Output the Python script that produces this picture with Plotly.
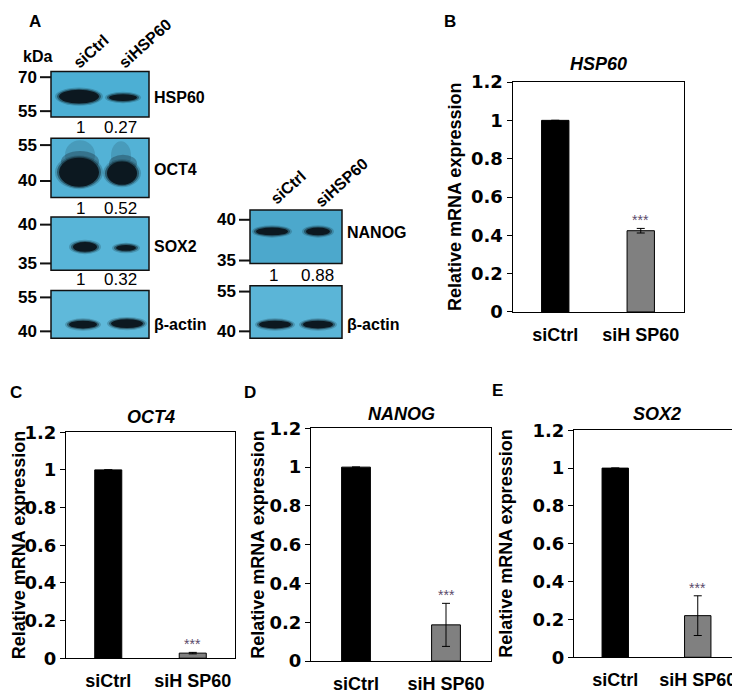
import plotly.graph_objects as go

W, H = 740, 700
OFF = 8  # page body margin: figure content is drawn 8 px in from the window corner
FONT = "Liberation Sans, Arial, sans-serif"
TICKFONT = "DejaVu Sans, Liberation Sans, sans-serif"

# ---- qPCR data (relative mRNA expression) ----
groups = ["siCtrl", "siH SP60"]
hsp60_mean = [1.0, 0.424]
hsp60_err = [0, 0.012]
oct4_mean = [1.0, 0.027]
oct4_err = [0, 0.004]
nanog_mean = [1.0, 0.187]
nanog_err = [0, 0.111]
sox2_mean = [1.0, 0.22]
sox2_err = [0, 0.105]
y_ticks = [0, 0.2, 0.4, 0.6, 0.8, 1, 1.2]
y_ticktext = ["0", "0.2", "0.4", "0.6", "0.8", "1", "1.2"]

# ---- western blot labels and densitometry ----
lanes = ["siCtrl", "siHSP60"]
blots_left = ["HSP60", "OCT4", "SOX2", "β-actin"]
markers_left = [["70", "55"], ["55", "40"], ["40", "35"], ["55", "40"]]
quant_left = [["1", "0.27"], ["1", "0.52"], ["1", "0.32"], None]
blots_right = ["NANOG", "β-actin"]
markers_right = [["40", "35"], ["55", "40"]]
quant_right = [["1", "0.88"], None]


def px_x(v):
    return (v - OFF) / W


def px_y(v):
    return 1 - (v - OFF) / H


fig = go.Figure()

# full-canvas pixel axes (window coordinates) for the blot drawing and free text
fig.add_trace(go.Scatter(x=[], y=[], xaxis="x5", yaxis="y5", showlegend=False))
fig.update_layout(
    xaxis5=dict(domain=[0, 1], range=[OFF, W + OFF], visible=False, fixedrange=True, anchor="y5"),
    yaxis5=dict(domain=[0, 1], range=[H + OFF, OFF], visible=False, fixedrange=True, anchor="x5"),
)

shapes = []
annos = []


def text(x, y, s, size=16, bold=True, italic=False, xanchor="center", angle=0,
         color="#000", family=FONT):
    annos.append(dict(
        x=x, y=y, xref="x5", yref="y5", text=s, showarrow=False,
        xanchor=xanchor, yanchor="middle", textangle=angle,
        font=dict(family=family, size=size, color=color,
                  weight="bold" if bold else "normal",
                  style="italic" if italic else "normal")))


def ellipse(cx, cy, rx, ry, opacity):
    shapes.append(dict(
        type="circle", xref="x5", yref="y5", layer="above",
        x0=cx - rx, x1=cx + rx, y0=cy - ry, y1=cy + ry,
        fillcolor="#0c1820", opacity=opacity, line=dict(width=0)))


def band(cx, cy, rx, ry):
    for grow, op in [(4, 0.2), (2, 0.45), (0, 1.0)]:
        ellipse(cx, cy, rx + grow, ry + grow * 0.6, op)


# blot geometry (window pixels): box x0, x1, y0, y1, fill, marker y's, label y, bands
left_geo = [
    dict(box=(51, 149, 62, 109), fill="#4cafd4", mk=(68, 103), ly=89,
         bands=[(79, 88, 20, 7), (123, 89, 14, 3.5)]),
    dict(box=(51, 149, 131, 192), fill="#53b2d6", mk=(138, 175), ly=163,
         bands=[(79, 166, 20, 15), (122, 167, 15, 12)]),
    dict(box=(51, 149, 212, 267), fill="#58b5d8", mk=(220, 260), ly=243,
         bands=[(85, 243, 12, 5), (126, 244, 10, 3)]),
    dict(box=(51, 149, 288, 337), fill="#5fb9da", mk=(295, 330), ly=323,
         bands=[(83, 323, 14, 4), (127, 322, 16, 4.5)]),
]
right_geo = [
    dict(box=(250, 342, 205, 260), fill="#4ca8cc", mk=(215, 257), ly=228,
         bands=[(272, 227, 16, 4), (318, 227, 12, 4)]),
    dict(box=(250, 342, 283, 337), fill="#5bb5d7", mk=(289, 330), ly=323,
         bands=[(275, 323, 16, 4), (318, 323, 15, 4)]),
]
quant_y_left = [120, 203, 277, None]
quant_y_right = [272, None]
quant_x_left = [80, 120]
quant_x_right = [273, 317]


def draw_blot(geo, name, marks, quant, qy, qx):
    x0, x1, y0, y1 = geo["box"]
    shapes.append(dict(type="rect", xref="x5", yref="y5", layer="above",
                       x0=x0, x1=x1, y0=y0, y1=y1, fillcolor=geo["fill"],
                       line=dict(color="#111111", width=1.5)))
    if name == "OCT4":
        # smear trailing up from the saturated bands
        for cx, cy, rx, ry, op in [(80, 148, 15, 15, 0.15), (80, 155, 19, 11, 0.3),
                                   (121, 149, 10, 15, 0.15), (123, 157, 14, 9, 0.3)]:
            ellipse(cx, cy, rx, ry, op)
    for b in geo["bands"]:
        band(*b)
    for m, my in zip(marks, geo["mk"]):
        shapes.append(dict(type="line", xref="x5", yref="y5", layer="above",
                           x0=x0 - 11, x1=x0, y0=my, y1=my,
                           line=dict(color="#111111", width=2)))
        text(x0 - 12, my, m, size=17, xanchor="right")
    text(x1 + 3, geo["ly"], name, size=16, xanchor="left")
    if quant:
        for q, x in zip(quant, qx):
            text(x, qy, q, size=17, bold=False)


for g, n, m, q, qy in zip(left_geo, blots_left, markers_left, quant_left, quant_y_left):
    draw_blot(g, n, m, q, qy, quant_x_left)
for g, n, m, q, qy in zip(right_geo, blots_right, markers_right, quant_right, quant_y_right):
    draw_blot(g, n, m, q, qy, quant_x_right)

# lane labels
for s, (x, y) in zip(lanes, [(91, 42), (145, 33)]):
    text(x, y, s, size=16, angle=-42)
for s, (x, y) in zip(lanes, [(288, 182), (342, 177)]):
    text(x, y, s, size=16, angle=-42)
text(37, 47, "kDa", size=16)

# ---- bar chart panels ----
panels = [
    dict(gene="HSP60", mean=hsp60_mean, err=hsp60_err, xd=(512.5, 683.5), yd=(73, 310),
         letter="B", lpos=(450, 11), ty=54, ytx=455),
    dict(gene="OCT4", mean=oct4_mean, err=oct4_err, xd=(66, 235), yd=(434, 667),
         letter="C", lpos=(16, 393), ty=418, ytx=19),
    dict(gene="NANOG", mean=nanog_mean, err=nanog_err, xd=(311, 491), yd=(430, 670),
         letter="D", lpos=(250, 393), ty=415, ytx=258),
    dict(gene="SOX2", mean=sox2_mean, err=sox2_err, xd=(574, 739), yd=(432, 666),
         letter="E", lpos=(497, 391), ty=415, ytx=506),
]

for i, p in enumerate(panels, start=1):
    xa = "x" if i == 1 else f"x{i}"
    ya = "y" if i == 1 else f"y{i}"
    fig.add_trace(go.Bar(
        x=groups, y=p["mean"], width=0.32, xaxis=xa, yaxis=ya, showlegend=False,
        marker=dict(color=["#000000", "#808080"], line=dict(color="#000000", width=1)),
        error_y=dict(type="data", array=p["err"], color="#000000", thickness=1, width=4),
    ))
    axis_common = dict(showline=True, mirror=True, linecolor="#000000", linewidth=1,
                       showgrid=False, zeroline=False, fixedrange=True)
    fig.update_layout(**{
        ("xaxis" if i == 1 else f"xaxis{i}"): dict(
            axis_common, domain=[px_x(p["xd"][0]), px_x(p["xd"][1])], anchor=ya,
            range=[-0.5, 1.5], ticks="", ticklabelstandoff=6,
            tickfont=dict(family=FONT, size=18, weight="bold", color="#000")),
        ("yaxis" if i == 1 else f"yaxis{i}"): dict(
            axis_common, domain=[px_y(p["yd"][1]), px_y(p["yd"][0])], anchor=xa,
            range=[0, 1.2], tickvals=y_ticks, ticktext=y_ticktext,
            ticks="outside", ticklen=5, tickwidth=1, tickcolor="#000",
            tickfont=dict(family=TICKFONT, size=18, weight="bold", color="#000")),
    })
    # significance stars
    annos.append(dict(x=groups[1], y=p["mean"][1] + p["err"][1], xref=xa, yref=ya,
                      text="***", showarrow=False, yanchor="bottom", yshift=-2,
                      font=dict(family=FONT, size=14, color="#5a4a6a")))
    cx = (p["xd"][0] + p["xd"][1]) / 2
    cy = (p["yd"][0] + p["yd"][1]) / 2
    text(cx, p["ty"], p["gene"], size=18, italic=True)
    text(p["ytx"], cy, "Relative mRNA expression", size=18, angle=-90)
    text(p["lpos"][0], p["lpos"][1], p["letter"], size=17)

text(35, 11, "A", size=17)

fig.update_layout(
    width=W, height=H, margin=dict(l=0, r=0, t=0, b=0),
    paper_bgcolor="white", plot_bgcolor="rgba(0,0,0,0)",
    shapes=shapes, annotations=annos, showlegend=False,
    font=dict(family=FONT, color="#000"),
)

fig.write_html("out.html")
